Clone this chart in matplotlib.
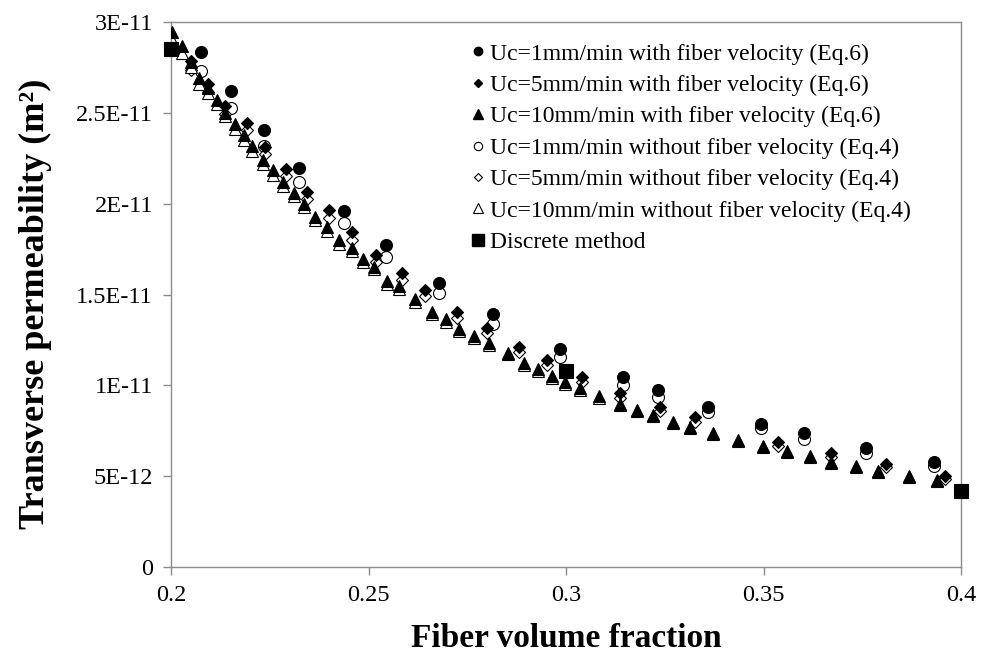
import matplotlib
matplotlib.use("Agg")
import matplotlib.pyplot as plt
from matplotlib.lines import Line2D

plt.rcParams['font.family'] = ['Liberation Serif', 'DejaVu Serif']

SCALE = 1e-11

# Uc = 1 mm/min (circles)
x_uc1 = [0.2076, 0.2152, 0.2235, 0.2324, 0.2438, 0.2544, 0.2678, 0.2815,
         0.2985, 0.3144, 0.3233, 0.3359, 0.3494, 0.3603, 0.3759, 0.3932]
y_uc1_with = [2.834, 2.620, 2.405, 2.196, 1.959, 1.772, 1.563, 1.392,
              1.200, 1.046, 0.974, 0.881, 0.787, 0.737, 0.655, 0.578]
y_uc1_without = [2.730, 2.526, 2.317, 2.119, 1.893, 1.706, 1.508, 1.337,
                 1.156, 1.002, 0.936, 0.853, 0.765, 0.704, 0.627, 0.556]

# Uc = 5 mm/min (diamonds)
x_uc5 = [0.2051, 0.2094, 0.2137, 0.2192, 0.2238, 0.2291, 0.2344, 0.2400,
         0.2458, 0.2519, 0.2585, 0.2643, 0.2724, 0.2800, 0.2881, 0.2952,
         0.3041, 0.3137, 0.3238, 0.3327, 0.3537, 0.3671, 0.3810, 0.3959]
y_uc5_with = [2.785, 2.658, 2.537, 2.444, 2.311, 2.190, 2.064, 1.965,
              1.844, 1.717, 1.618, 1.524, 1.403, 1.315, 1.211, 1.139,
              1.046, 0.958, 0.881, 0.826, 0.688, 0.627, 0.567, 0.501]
y_uc5_without = [2.735, 2.614, 2.493, 2.405, 2.273, 2.152, 2.025, 1.921,
                 1.800, 1.679, 1.580, 1.491, 1.370, 1.288, 1.183, 1.112,
                 1.018, 0.930, 0.859, 0.798, 0.666, 0.605, 0.550, 0.484]

# Uc = 10 mm/min (triangles)
x_uc10 = [0.2003, 0.2028, 0.2051, 0.2071, 0.2094, 0.2116, 0.2137, 0.2162,
          0.2185, 0.2205, 0.2233, 0.2258, 0.2284, 0.2311, 0.2337, 0.2365,
          0.2395, 0.2425, 0.2458, 0.2486, 0.2514, 0.2547, 0.2577, 0.2618,
          0.2661, 0.2696, 0.2729, 0.2767, 0.2805, 0.2853, 0.2894, 0.2929,
          0.2965, 0.2997, 0.3035, 0.3084, 0.3137, 0.3180, 0.3220, 0.3271,
          0.3314, 0.3372, 0.3435, 0.3499, 0.3559, 0.3618, 0.3671, 0.3734,
          0.3790, 0.3868, 0.3939]
y_uc10_with = [2.944, 2.867, 2.779, 2.691, 2.636, 2.570, 2.499, 2.438,
               2.378, 2.317, 2.240, 2.185, 2.119, 2.058, 1.998, 1.926,
               1.871, 1.800, 1.756, 1.695, 1.651, 1.574, 1.547, 1.475,
               1.403, 1.365, 1.310, 1.271, 1.233, 1.178, 1.123, 1.090,
               1.051, 1.018, 0.985, 0.941, 0.897, 0.864, 0.837, 0.798,
               0.770, 0.737, 0.699, 0.666, 0.638, 0.611, 0.578, 0.556,
               0.528, 0.501, 0.479]
y_uc10_without = [2.900, 2.830, 2.750, 2.660, 2.610, 2.550, 2.480, 2.410,
                  2.350, 2.290, 2.220, 2.160, 2.100, 2.040, 1.980, 1.910,
                  1.850, 1.780, 1.740, 1.680, 1.640, 1.560, 1.530, 1.460,
                  1.390, 1.350, 1.300, 1.260, 1.220, 1.170, 1.110, 1.080,
                  1.040, 1.010, 0.976, 0.932, 0.889, 0.856, 0.829, 0.790,
                  0.763, 0.730, 0.692, 0.660, 0.632, 0.605, 0.572, 0.550,
                  0.522, 0.495, 0.473]

# Discrete method (squares)
x_discrete = [0.2, 0.3, 0.4]
y_discrete = [2.85, 1.08, 0.42]

labels = [
    "Uc=1mm/min with fiber velocity (Eq.6)",
    "Uc=5mm/min with fiber velocity (Eq.6)",
    "Uc=10mm/min with fiber velocity (Eq.6)",
    "Uc=1mm/min without fiber velocity (Eq.4)",
    "Uc=5mm/min without fiber velocity (Eq.4)",
    "Uc=10mm/min without fiber velocity (Eq.4)",
    "Discrete method",
]

x_ticks = [0.2, 0.25, 0.3, 0.35, 0.4]
x_tick_labels = ["0.2", "0.25", "0.3", "0.35", "0.4"]
y_ticks = [0, 0.5, 1.0, 1.5, 2.0, 2.5, 3.0]
y_tick_labels = ["0", "5E-12", "1E-11", "1.5E-11", "2E-11", "2.5E-11", "3E-11"]

def sc(v):
    return [a * SCALE for a in v]

fig = plt.figure(figsize=(9.85, 6.6), dpi=100)
ax = fig.add_axes([171/985, 1 - 567/660, (961-171)/985, (567-22)/660])

edge = 0.8
ms_c, ms_d, ms_t = 8.6, 5.8, 9.0
# open markers (beneath)
ax.plot(x_uc1, sc(y_uc1_without), ls='none', marker='o', ms=ms_c, mfc='white', mec='black', mew=edge, zorder=2)
ax.plot(x_uc5, sc(y_uc5_without), ls='none', marker='D', ms=ms_d, mfc='white', mec='black', mew=edge, zorder=2)
ax.plot(x_uc10, sc(y_uc10_without), ls='none', marker='^', ms=ms_t, mfc='white', mec='black', mew=edge, zorder=2)
# filled markers
ax.plot(x_uc1, sc(y_uc1_with), ls='none', marker='o', ms=ms_c, mfc='black', mec='black', mew=edge, zorder=3)
ax.plot(x_uc5, sc(y_uc5_with), ls='none', marker='D', ms=ms_d, mfc='black', mec='black', mew=edge, zorder=3)
ax.plot(x_uc10, sc(y_uc10_with), ls='none', marker='^', ms=ms_t, mfc='black', mec='black', mew=edge, zorder=3)
ax.plot(x_discrete, sc(y_discrete), ls='none', marker='s', ms=9.8, mfc='black', mec='black', mew=edge, zorder=4, clip_on=False)

ax.set_xlim(0.2, 0.4)
ax.set_ylim(0, 3e-11)
ax.set_xticks(x_ticks)
ax.set_xticklabels(x_tick_labels)
ax.set_yticks(sc(y_ticks))
ax.set_yticklabels(y_tick_labels)

for s in ax.spines.values():
    s.set_color('#8c8c8c')
    s.set_linewidth(1.0)
ax.tick_params(axis='both', direction='out', length=6, width=1, color='#8c8c8c',
               labelsize=17.5, labelcolor='black', pad=7)

ax.set_xlabel("Fiber volume fraction", fontsize=24, fontweight='bold', labelpad=12)
ax.set_ylabel("Transverse permeability (m²)", fontsize=26, fontweight='bold')
ax.yaxis.set_label_coords(-0.150, 0.483)

handles = [
    Line2D([], [], ls='none', marker='o', ms=6, mfc='black', mec='black'),
    Line2D([], [], ls='none', marker='D', ms=4.2, mfc='black', mec='black'),
    Line2D([], [], ls='none', marker='^', ms=6.5, mfc='black', mec='black'),
    Line2D([], [], ls='none', marker='o', ms=6, mfc='white', mec='black', mew=0.8),
    Line2D([], [], ls='none', marker='D', ms=4.2, mfc='white', mec='black', mew=0.8),
    Line2D([], [], ls='none', marker='^', ms=6.5, mfc='white', mec='black', mew=0.8),
    Line2D([], [], ls='none', marker='s', ms=9, mfc='black', mec='black'),
]
leg = fig.legend(handles, labels, loc='upper left', bbox_to_anchor=(472/985, 1 - 43/660),
                 frameon=False, fontsize=17, handlelength=0.5, handletextpad=0.27,
                 labelspacing=0.42, borderpad=0, borderaxespad=0)

fig.savefig("out.png", dpi=100)
